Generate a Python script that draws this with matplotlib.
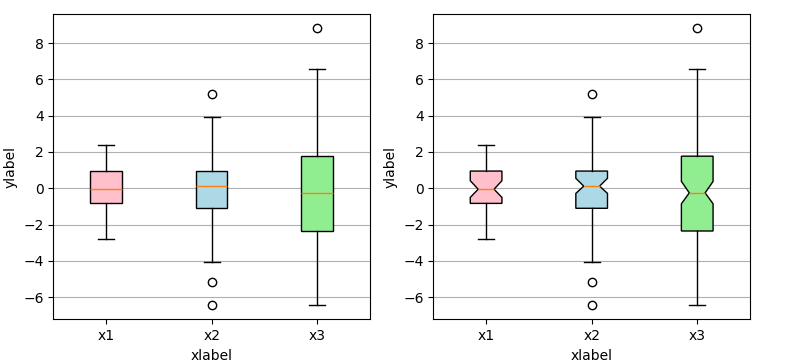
import matplotlib.pyplot as plt

labels = ['x1', 'x2', 'x3']
whislo = [-2.81, -4.08, -6.45]
q1 = [-0.83, -1.10, -2.35]
med = [-0.05, 0.12, -0.25]
q3 = [0.95, 0.95, 1.77]
whishi = [2.37, 3.92, 6.57]
cilo = [-0.50, -0.28, -0.85]
cihi = [0.42, 0.55, 0.38]
fliers = [[], [5.18, -5.15, -6.45], [8.82]]
colors = ['pink', 'lightblue', 'lightgreen']

stats = []
for i in range(3):
    stats.append(dict(label=labels[i], whislo=whislo[i], q1=q1[i], med=med[i],
                      q3=q3[i], whishi=whishi[i], cilo=cilo[i], cihi=cihi[i],
                      fliers=fliers[i]))

fig, axs = plt.subplots(1, 2, figsize=(8.03, 3.63))
fig.subplots_adjust(left=0.0664, right=0.934, top=0.961, bottom=0.120, wspace=0.2)

for ax, notch in zip(axs, [False, True]):
    bp = ax.bxp(stats, patch_artist=True, shownotches=notch, widths=0.3)
    for patch, c in zip(bp['boxes'], colors):
        patch.set_facecolor(c)
    ax.yaxis.grid(True)
    ax.set_ylim(-7.22, 9.59)
    ax.set_xlabel('xlabel')
    ax.set_ylabel('ylabel')

plt.savefig('out.png', dpi=100)
